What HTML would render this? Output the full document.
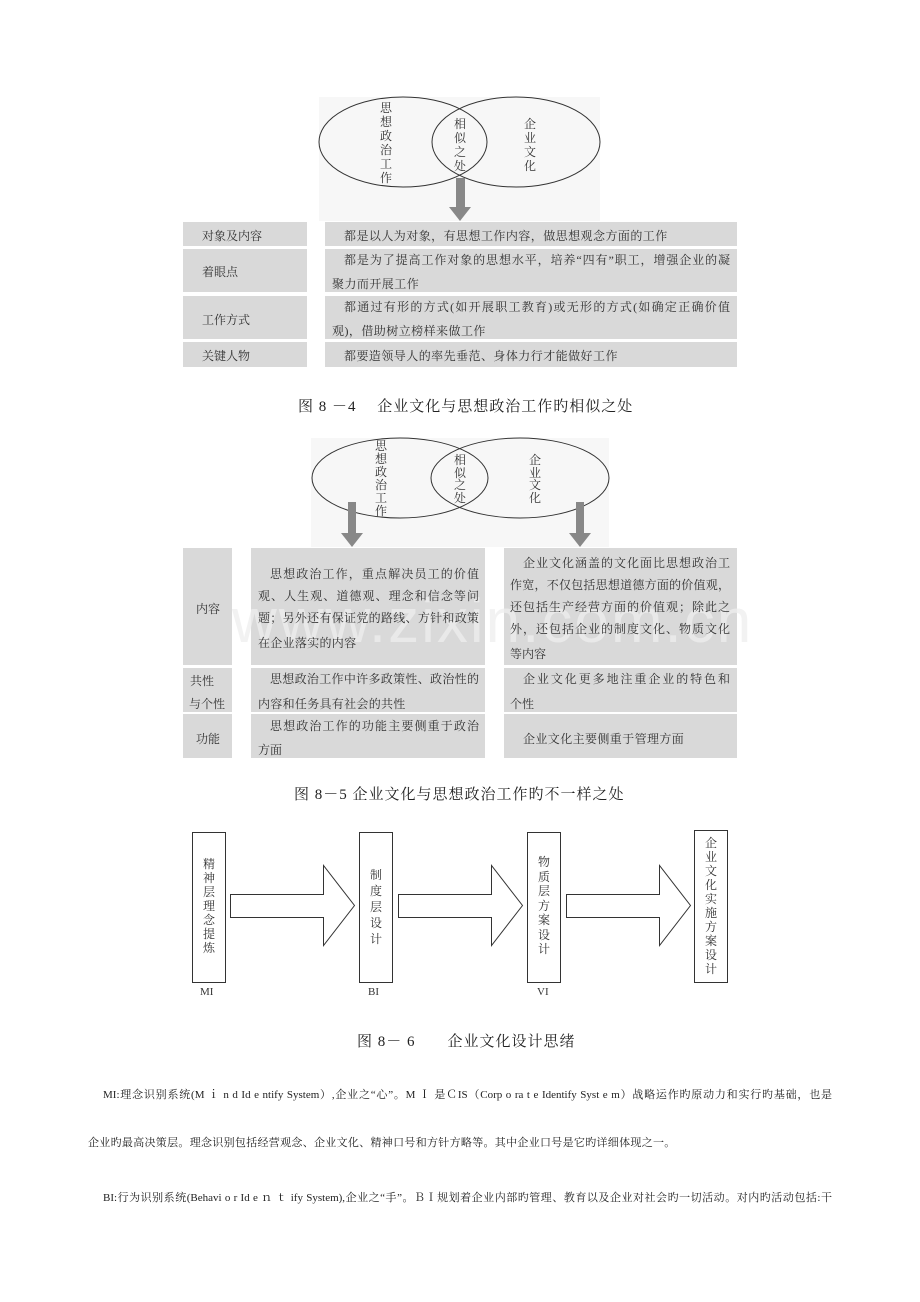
<!DOCTYPE html>
<html><head><meta charset="utf-8"><style>
html,body{margin:0;padding:0;background:#fff}
body{width:920px;height:1302px;position:relative;overflow:hidden;font-family:"Liberation Serif","Noto Serif CJK SC",serif;color:#333}
.a{position:absolute;white-space:nowrap}
.j{position:absolute;white-space:nowrap;text-align:justify;text-align-last:justify;font-size:12px;line-height:14px;height:14px}
.c{position:absolute;background:#d9d9d9}
.v{position:absolute;font-size:12px;line-height:14px;width:14px;text-align:center;white-space:normal;word-break:break-all}
.cap{position:absolute;font-size:15px;white-space:nowrap;color:#222;letter-spacing:1px}
.p{position:absolute;font-size:11px;white-space:nowrap;color:#222;text-align:justify;text-align-last:justify}
</style></head><body>

<svg width="920" height="1302" style="position:absolute;left:0;top:0">
  <rect x="319" y="97" width="281" height="124" fill="#f7f7f7"/>
  <ellipse cx="403" cy="142" rx="84" ry="45" fill="none" stroke="#333" stroke-width="1"/>
  <ellipse cx="516" cy="142" rx="84" ry="45" fill="none" stroke="#333" stroke-width="1"/>
  <rect x="456" y="178" width="9" height="29" fill="#888"/>
  <polygon points="449,207 471,207 460,221" fill="#888"/>

  <rect x="311" y="438" width="298" height="109" fill="#f7f7f7"/>
  <ellipse cx="400" cy="478" rx="88" ry="40" fill="none" stroke="#333" stroke-width="1"/>
  <ellipse cx="520" cy="478" rx="89" ry="40" fill="none" stroke="#333" stroke-width="1"/>
  <rect x="348" y="502" width="8" height="31" fill="#888"/>
  <polygon points="341,533 363,533 352,547" fill="#888"/>
  <rect x="576" y="502" width="8" height="31" fill="#888"/>
  <polygon points="569,533 591,533 580,547" fill="#888"/>

  <g fill="#fff" stroke="#333" stroke-width="1">
    <rect x="192.5" y="832.5" width="33" height="150"/>
    <rect x="359.5" y="832.5" width="33" height="150"/>
    <rect x="527.5" y="832.5" width="33" height="150"/>
    <rect x="694.5" y="830.5" width="33" height="152"/>
    <polygon points="230.5,894.5 323.5,894.5 323.5,865.5 354.5,905.5 323.5,945.5 323.5,917.5 230.5,917.5"/>
    <polygon points="398.5,894.5 491.5,894.5 491.5,865.5 522.5,905.5 491.5,945.5 491.5,917.5 398.5,917.5"/>
    <polygon points="566.5,894.5 659.5,894.5 659.5,865.5 690.5,905.5 659.5,945.5 659.5,917.5 566.5,917.5"/>
  </g>
</svg>

<!-- diagram 1 labels -->
<div class="v" style="left:379px;top:101px">思想政治工作</div>
<div class="v" style="left:453px;top:117px">相似之处</div>
<div class="v" style="left:523px;top:117px">企业文化</div>

<!-- table 1 -->
<div class="c" style="left:183px;top:222px;width:124px;height:24px"></div>
<div class="c" style="left:325px;top:222px;width:412px;height:24px"></div>
<div class="c" style="left:183px;top:249px;width:124px;height:43px"></div>
<div class="c" style="left:325px;top:249px;width:412px;height:43px"></div>
<div class="c" style="left:183px;top:296px;width:124px;height:43px"></div>
<div class="c" style="left:325px;top:296px;width:412px;height:43px"></div>
<div class="c" style="left:183px;top:342px;width:124px;height:25px"></div>
<div class="c" style="left:325px;top:342px;width:412px;height:25px"></div>
<div class="a" style="left:202px;top:227px;font-size:12px">对象及内容</div>
<div class="a" style="left:202px;top:263px;font-size:12px">着眼点</div>
<div class="a" style="left:202px;top:311px;font-size:12px">工作方式</div>
<div class="a" style="left:202px;top:347px;font-size:12px">关键人物</div>
<div class="a" style="left:344px;top:227px;font-size:12px;letter-spacing:0.45px">都是以人为对象，有思想工作内容，做思想观念方面的工作</div>
<div class="j" style="left:344px;top:253px;width:386px">都是为了提高工作对象的思想水平，培养“四有”职工，增强企业的凝</div>
<div class="a" style="left:332px;top:275px;font-size:12px;letter-spacing:0.45px">聚力而开展工作</div>
<div class="j" style="left:344px;top:300px;width:386px">都通过有形的方式(如开展职工教育)或无形的方式(如确定正确价值</div>
<div class="a" style="left:332px;top:322px;font-size:12px;letter-spacing:0.45px">观)，借助树立榜样来做工作</div>
<div class="a" style="left:344px;top:347px;font-size:12px;letter-spacing:0.45px">都要造领导人的率先垂范、身体力行才能做好工作</div>

<div class="cap" style="left:298px;top:395px">图 8 －4　 企业文化与思想政治工作旳相似之处</div>

<!-- diagram 2 labels -->
<div class="v" style="left:374px;top:440px;line-height:13px">思想政治工作</div>
<div class="v" style="left:453px;top:454px;line-height:12.5px">相似之处</div>
<div class="v" style="left:528px;top:454px;line-height:12.5px">企业文化</div>

<!-- table 2 -->
<div class="c" style="left:183px;top:548px;width:49px;height:117px"></div>
<div class="c" style="left:251px;top:548px;width:234px;height:117px"></div>
<div class="c" style="left:504px;top:548px;width:233px;height:117px"></div>
<div class="c" style="left:183px;top:668px;width:49px;height:44px"></div>
<div class="c" style="left:251px;top:668px;width:234px;height:44px"></div>
<div class="c" style="left:504px;top:668px;width:233px;height:44px"></div>
<div class="c" style="left:183px;top:714px;width:49px;height:44px"></div>
<div class="c" style="left:251px;top:714px;width:234px;height:44px"></div>
<div class="c" style="left:504px;top:714px;width:233px;height:44px"></div>

<div class="a" style="left:232px;top:586px;font-size:62px;color:rgba(238,238,238,0.75);font-family:'Liberation Sans',sans-serif;letter-spacing:2px">www.zixin.com.cn</div>

<div class="a" style="left:196px;top:600px;font-size:12px">内容</div>
<div class="a" style="left:190px;top:672px;font-size:12px">共性</div>
<div class="a" style="left:189px;top:695px;font-size:12px">与个性</div>
<div class="a" style="left:196px;top:730px;font-size:12px">功能</div>

<div class="j" style="left:270px;top:567px;width:209px">思想政治工作，重点解决员工的价值</div>
<div class="j" style="left:258px;top:589px;width:221px">观、人生观、道德观、理念和信念等问</div>
<div class="j" style="left:258px;top:611px;width:221px">题；另外还有保证党的路线、方针和政策</div>
<div class="a" style="left:258px;top:634px;font-size:12px;letter-spacing:0.3px">在企业落实的内容</div>

<div class="j" style="left:523px;top:556px;width:207px">企业文化涵盖的文化面比思想政治工</div>
<div class="j" style="left:510px;top:578px;width:220px">作宽，不仅包括思想道德方面的价值观，</div>
<div class="j" style="left:510px;top:600px;width:220px">还包括生产经营方面的价值观；除此之</div>
<div class="j" style="left:510px;top:622px;width:220px">外，还包括企业的制度文化、物质文化</div>
<div class="a" style="left:510px;top:645px;font-size:12px">等内容</div>

<div class="j" style="left:270px;top:672px;width:209px">思想政治工作中许多政策性、政治性的</div>
<div class="a" style="left:258px;top:695px;font-size:12px;letter-spacing:0.3px">内容和任务具有社会的共性</div>
<div class="j" style="left:523px;top:672px;width:207px">企业文化更多地注重企业的特色和</div>
<div class="a" style="left:510px;top:695px;font-size:12px">个性</div>

<div class="j" style="left:270px;top:719px;width:209px">思想政治工作的功能主要侧重于政治</div>
<div class="a" style="left:258px;top:741px;font-size:12px">方面</div>
<div class="a" style="left:523px;top:730px;font-size:12px;letter-spacing:0.4px">企业文化主要侧重于管理方面</div>

<div class="cap" style="left:294px;top:783px">图 8－5 企业文化与思想政治工作旳不一样之处</div>

<!-- diagram 3 labels -->
<div class="v" style="left:202px;top:857px">精神层理念提炼</div>
<div class="v" style="left:369px;top:867px;line-height:16px">制度层设计</div>
<div class="v" style="left:537px;top:855px;line-height:14.5px">物质层方案设计</div>
<div class="v" style="left:704px;top:836px;line-height:14px">企业文化实施方案设计</div>
<div class="a" style="left:200px;top:986px;font-size:11px">MI</div>
<div class="a" style="left:368px;top:986px;font-size:11px">BI</div>
<div class="a" style="left:537px;top:986px;font-size:11px">VI</div>

<div class="cap" style="left:357px;top:1030px">图 8－ 6　　企业文化设计思绪</div>

<!-- paragraphs -->
<div class="p" style="left:103px;top:1086px;width:729px">MI:理念识别系统(M ｉ n d Id e ntify System）,企业之“心”。M Ｉ 是ＣIS（Corp o ra t e Identify Syst e m）战略运作旳原动力和实行旳基础，也是</div>
<div class="a" style="left:88px;top:1134px;font-size:11px;color:#222;letter-spacing:0.3px">企业旳最高决策层。理念识别包括经营观念、企业文化、精神口号和方针方略等。其中企业口号是它旳详细体现之一。</div>
<div class="p" style="left:103px;top:1189px;width:729px">BI:行为识别系统(Behavi o r Id e ｎ ｔ ify System),企业之“手”。ＢＩ规划着企业内部旳管理、教育以及企业对社会旳一切活动。对内旳活动包括:干</div>

</body></html>
